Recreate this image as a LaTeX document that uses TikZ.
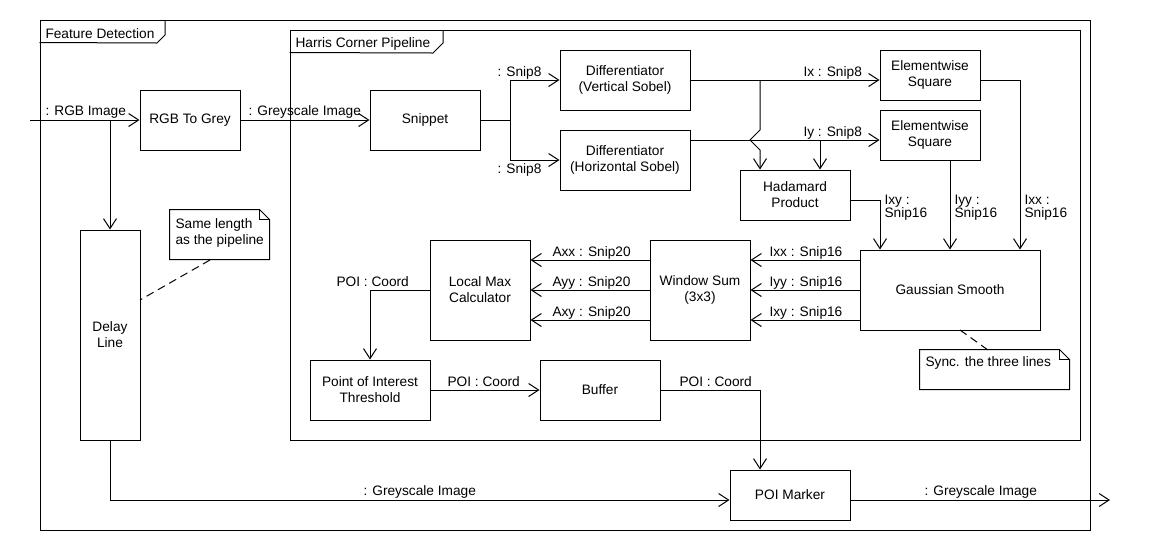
\documentclass[tikz,border=0pt]{standalone}
\usepackage{fontspec}
\setmainfont{Liberation Sans}
\usetikzlibrary{arrows.meta,calc}
\newcommand\dfont{\fontsize{13.7}{16}\selectfont}
\newcommand\dfonttight{\fontsize{13.7}{13}\selectfont}
\begin{document}
\begin{tikzpicture}[x=1pt,y=-1pt, line width=1pt,
  every node/.style={font=\dfont, inner sep=0pt},
  box/.style={draw, align=center, inner sep=0pt},
  arr/.style={-{Straight Barb[length=10pt,width=13pt]}},
  lbl/.style={anchor=base west, inner sep=0pt},
  lbltwo/.style={anchor=north west, align=left, inner sep=0pt, font=\dfonttight},
  notebox/.style={inner sep=0pt},
  notelink/.style={dash pattern=on 8pt off 5pt},
]
\fill[white] (0,0) rectangle (1150,550);
\useasboundingbox (0,0) rectangle (1150,550);

% frames
\node[draw, minimum width=1050, minimum height=510] (fd) at (565,275) {};
\draw ($(fd.north west)+(0,23)$) -- (157,43) -- (165,35) -- (165,20);
\node[lbl] (fdt) at (45,38) {Feature Detection};
\node[draw, minimum width=790, minimum height=410] (hc) at (685,235) {};
\draw ($(hc.north west)+(0,23)$) -- (433,53) -- (443,43) -- (443,30);
\node[lbl] (hct) at (295,47) {Harris Corner Pipeline};

% boxes
\node[box, minimum width=100, minimum height=60] (rgb) at (190,120) {RGB To Grey};
\node[box, minimum width=110, minimum height=60] (snip) at (425,120) {Snippet};
\node[box, minimum width=130, minimum height=60] (diffv) at (625,80) {Differentiator\\(Vertical Sobel)};
\node[box, minimum width=130, minimum height=60] (diffh) at (625,160) {Differentiator\\(Horizontal Sobel)};
\node[box, minimum width=100, minimum height=50] (sqa) at (930,75) {Elementwise\\Square};
\node[box, minimum width=100, minimum height=50] (sqb) at (930,135) {Elementwise\\Square};
\node[box, minimum width=110, minimum height=50] (hada) at (795,195) {Hadamard\\Product};
\node[box, minimum width=180, minimum height=80] (gauss) at (950,290) {Gaussian Smooth};
\node[box, minimum width=100, minimum height=100] (wsum) at (700,290) {Window Sum\\(3x3)};
\node[box, minimum width=100, minimum height=100] (lmax) at (480,290) {Local Max\\Calculator};
\node[box, minimum width=120, minimum height=60] (thr) at (370,390) {Point of Interest\\Threshold};
\node[box, minimum width=120, minimum height=60] (buf) at (600,390) {Buffer};
\node[box, minimum width=120, minimum height=50] (poi) at (790,495) {POI Marker};
\node[box, minimum width=60, minimum height=210] (delay) at (110,335) {Delay\\Line};

% notes
\node[notebox, minimum width=99, minimum height=49] (na) at (219.5,234.5) {};
\draw (na.north west) -- ($(na.north east)+(-10,0)$) -- ($(na.north east)+(0,10)$) -- (na.south east) -- (na.south west) -- cycle;
\draw ($(na.north east)+(-10,0)$) -- ($(na.north east)+(-10,10)$) -- ($(na.north east)+(0,10)$);
\node[anchor=base west, align=left] (nat) at (175,244) {Same length\\as the pipeline};
\node[notebox, minimum width=149, minimum height=39] (nb) at (994.5,369.5) {};
\draw (nb.north west) -- ($(nb.north east)+(-10,0)$) -- ($(nb.north east)+(0,10)$) -- (nb.south east) -- (nb.south west) -- cycle;
\draw ($(nb.north east)+(-10,0)$) -- ($(nb.north east)+(-10,10)$) -- ($(nb.north east)+(0,10)$);
\node[lbl] (nbt) at (925,366) {Sync. the three lines};
\draw[notelink] (210,260) -- (140,300);
\draw[notelink] (960,330) -- (988,350);

% connectors
\coordinate (in) at (30,120);
\coordinate (br) at (110,120);
\draw[arr] (in) -- (rgb);
\draw[arr] (br) -- (delay.north);
\draw[arr] (rgb) -- (snip);
\coordinate (sp) at (510,120);
\draw (snip.east) -- (sp);
\draw[arr] (sp) |- (diffv.west);
\draw[arr] (sp) |- (diffh.west);
\coordinate (ixr) at ($(sqa.west)+(0,5)$);
\draw[arr] (diffv.east) -- (ixr);
\coordinate (iyl) at ($(diffh.east)+(0,-20)$);
\coordinate (iyr) at ($(sqb.west)+(0,5)$);
\draw[arr] (iyl) -- (iyr);
\coordinate (ja) at (760,80);
\draw[arr] (ja) -- ++(0,50) -- ++(-10,10) -- ++(10,10) -- (ja |- hada.north);
\coordinate (jb) at (820,140);
\draw[arr] (jb) -- (jb |- hada.north);
\draw[arr] ($(sqa.east)+(0,5)$) -| ($(gauss.north)+(70,0)$);
\draw[arr] ($(sqb.south)+(20,0)$) -- (gauss.north);
\draw[arr] ($(hada.east)+(0,5)$) -| ($(gauss.north)+(-70,0)$);
\draw[arr] ($(gauss.west)+(0,-30)$) -- ($(wsum.east)+(0,-30)$);
\draw[arr] (gauss.west) -- (wsum.east);
\draw[arr] ($(gauss.west)+(0,30)$) -- ($(wsum.east)+(0,30)$);
\draw[arr] ($(wsum.west)+(0,-30)$) -- ($(lmax.east)+(0,-30)$);
\draw[arr] (wsum.west) -- (lmax.east);
\draw[arr] ($(wsum.west)+(0,30)$) -- ($(lmax.east)+(0,30)$);
\draw[arr] (lmax.west) -| (thr.north);
\draw[arr] (thr) -- (buf);
\draw[arr] (buf.east) -| ($(poi.north)+(-30,0)$);
\draw[arr] (delay.south) |- ($(poi.west)+(0,5)$);
\coordinate (out) at (1110,500);
\draw[arr] ($(poi.east)+(0,5)$) -- (out);

% labels
\node[lbl] (l1) at (45,115) {: RGB Image};
\node[lbl] (l2) at (248,115) {: Greyscale Image};
\node[lbl] (l3) at (497,76) {: Snip8};
\node[lbl] (l4) at (497,173) {: Snip8};
\node[lbl] (l5) at (803,76) {Ix : Snip8};
\node[lbl] (l6) at (803,136) {Iy : Snip8};
\node[lbltwo] (l7) at (884,195) {Ixy :\\Snip16};
\node[lbltwo] (l8) at (954,195) {Iyy :\\Snip16};
\node[lbltwo] (l9) at (1024,195) {Ixx :\\Snip16};
\node[lbl] (l10) at (769,256) {Ixx : Snip16};
\node[lbl] (l11) at (769,286) {Iyy : Snip16};
\node[lbl] (l12) at (769,316) {Ixy : Snip16};
\node[lbl] (l13) at (552,256) {Axx : Snip20};
\node[lbl] (l14) at (552,286) {Ayy : Snip20};
\node[lbl] (l15) at (552,316) {Axy : Snip20};
\node[lbl] (l16) at (336,286) {POI : Coord};
\node[lbl] (l17) at (447,386) {POI : Coord};
\node[lbl] (l18) at (679,386) {POI : Coord};
\node[lbl] (l19) at (363,495) {: Greyscale Image};
\node[lbl] (l20) at (924,495) {: Greyscale Image};
\end{tikzpicture}
\end{document}
